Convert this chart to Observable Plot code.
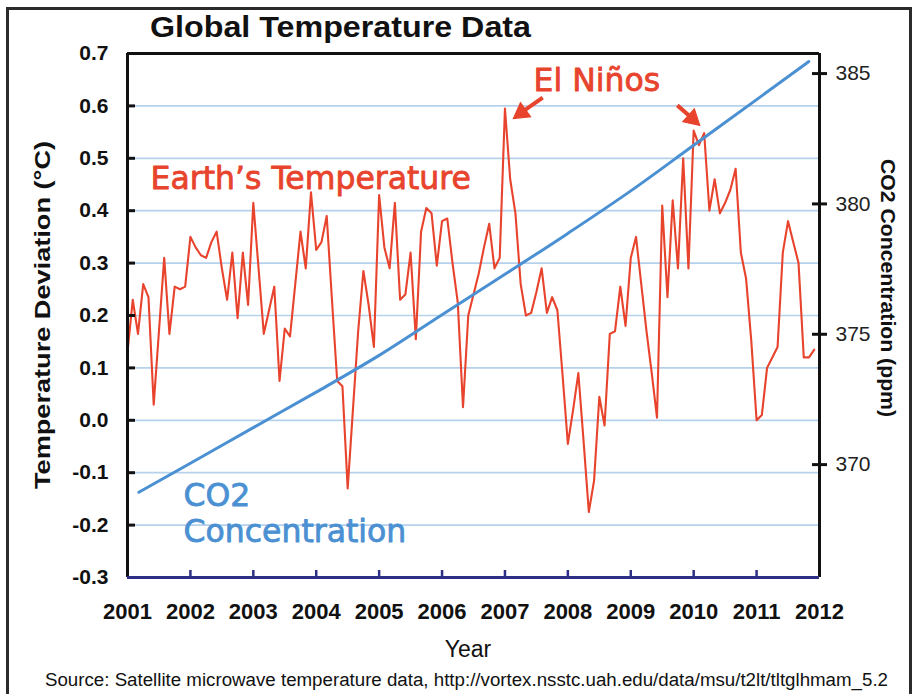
<!DOCTYPE html>
<html><head><meta charset="utf-8">
<script src="https://cdn.jsdelivr.net/npm/d3@7"></script>
<script src="https://cdn.jsdelivr.net/npm/@observablehq/plot@0.6"></script>
<style>
html,body{margin:0;padding:0;background:#fff;}
#wrap{position:relative;width:918px;height:694px;overflow:hidden;background:#fff;}
#border{position:absolute;left:6px;top:7px;width:900px;height:700px;border:3px solid #2b2b2b;}
#chart{position:absolute;left:0;top:0;}
#labels{position:absolute;left:0;top:0;}
g[aria-label="annotations"] text{filter:drop-shadow(1.5px 1.5px 1.2px rgba(0,0,0,0.35));}
</style>
</head><body>
<div id="wrap">
<div id="border"></div>
<div id="chart"></div>
<svg id="labels" width="918" height="694" font-family="'Liberation Sans', Arial, sans-serif">
  <text x="150" y="37" font-weight="bold" font-size="29" fill="#111" textLength="381" lengthAdjust="spacingAndGlyphs">Global Temperature Data</text>
  <text transform="translate(50,315) rotate(-90)" text-anchor="middle" font-weight="bold" font-size="22" fill="#111" textLength="348" lengthAdjust="spacingAndGlyphs">Temperature Deviation (°C)</text>
  <text transform="translate(881,288) rotate(90)" text-anchor="middle" font-weight="bold" font-size="21" fill="#111" textLength="258" lengthAdjust="spacingAndGlyphs">CO2 Concentration (ppm)</text>
  <text x="468" y="657" text-anchor="middle" font-size="23" fill="#111">Year</text>
  <text x="45" y="686" font-size="18" fill="#111" textLength="843" lengthAdjust="spacingAndGlyphs">Source: Satellite microwave temperature data, http://vortex.nsstc.uah.edu/data/msu/t2lt/tltglhmam_5.2</text>
</svg>
</div>
<script>
// ---- data ----
const startYear = 2001;
// monthly temperature deviation (°C), Jan 2001 .. Dec 2011
const temp2001 = [0.13, 0.23, 0.165, 0.26, 0.235, 0.03, 0.17, 0.31, 0.165, 0.255, 0.25, 0.255];
const temp2002 = [0.35, 0.33, 0.315, 0.31, 0.34, 0.36, 0.29, 0.23, 0.32, 0.195, 0.32, 0.22];
const temp2003 = [0.415, 0.29, 0.165, 0.21, 0.255, 0.075, 0.175, 0.16, 0.26, 0.36, 0.29, 0.435];
const temp2004 = [0.325, 0.34, 0.39, 0.23, 0.075, 0.065, -0.13, 0.02, 0.17, 0.285, 0.22, 0.14];
const temp2005 = [0.43, 0.33, 0.29, 0.415, 0.23, 0.24, 0.32, 0.155, 0.36, 0.405, 0.395, 0.295];
const temp2006 = [0.38, 0.385, 0.30, 0.225, 0.025, 0.2, 0.24, 0.28, 0.33, 0.375, 0.29, 0.31];
const temp2007 = [0.595, 0.46, 0.395, 0.26, 0.2, 0.205, 0.245, 0.29, 0.205, 0.235, 0.21, 0.085];
const temp2008 = [-0.045, 0.02, 0.09, -0.04, -0.175, -0.115, 0.045, -0.01, 0.165, 0.17, 0.255, 0.18];
const temp2009 = [0.31, 0.35, 0.26, 0.17, 0.09, 0.005, 0.41, 0.235, 0.42, 0.29, 0.50, 0.29];
const temp2010 = [0.553, 0.525, 0.548, 0.40, 0.46, 0.395, 0.415, 0.44, 0.48, 0.32, 0.27, 0.15];
const temp2011 = [0.0, 0.01, 0.10, 0.12, 0.14, 0.32, 0.38, 0.34, 0.30, 0.12, 0.12, 0.135];

// CO2 concentration (ppm)
const co2Years = [2001.18, 2002, 2003, 2004, 2005, 2006, 2007, 2008, 2009, 2010, 2011, 2011.83];
const co2Ppm   = [368.94, 370.05, 371.42, 372.78, 374.19, 375.75, 377.30, 378.87, 380.50, 382.25, 384.00, 385.46];

const yearTicks  = [2001, 2002, 2003, 2004, 2005, 2006, 2007, 2008, 2009, 2010, 2011, 2012];
const yearLabels = ["2001","2002","2003","2004","2005","2006","2007","2008","2009","2010","2011","2012"];
const tempTicks  = [-0.3, -0.2, -0.1, 0.0, 0.1, 0.2, 0.3, 0.4, 0.5, 0.6, 0.7];
const tempTickLabels = ["-0.3","-0.2","-0.1","0.0","0.1","0.2","0.3","0.4","0.5","0.6","0.7"];
const co2Ticks = [370, 375, 380, 385];
const co2TickLabels = ["370","375","380","385"];

// ---- build ----
const tempSeries = [temp2001, temp2002, temp2003, temp2004, temp2005, temp2006, temp2007, temp2008, temp2009, temp2010, temp2011].flat();
const tempData = tempSeries.map((v, i) => ({date: startYear + i / 12, value: v}));
const co2Data = co2Years.map((y, i) => ({year: y, ppm: co2Ppm[i]}));
// secondary axis mapping (CO2 ppm -> left-axis units)
const co2Scale = d3.scaleLinear().domain([365.67, 385.77]).range([-0.3, 0.7]);
const innerTemp = tempTicks.slice(1, -1);
const innerYears = yearTicks.slice(1, -1);

const RED = "#e8432c", BLUE = "#4a90d2", NAVY = "#2e2f86";

// El Niño arrows: shaft + filled head
const arrowShafts = [{x1: 2007.60, y1: 0.616, x2: 2007.27, y2: 0.588}, {x1: 2009.74, y1: 0.601, x2: 2009.97, y2: 0.577}];
const arrowHeads  = [{x: 2007.263, y: 0.5872, angle: 234}, {x: 2009.978, y: 0.5756, angle: 132}];

const chart = Plot.plot({
  width: 918, height: 694,
  marginLeft: 127, marginRight: 99, marginTop: 53, marginBottom: 117,
  style: {background: "transparent", fontFamily: "'Liberation Sans', Arial, sans-serif", overflow: "visible"},
  x: {type: "linear", domain: [2001, 2012], axis: null},
  y: {domain: [-0.3, 0.7], axis: null},
  marks: [
    Plot.frame({fill: "#ffffff", stroke: null}),
    Plot.ruleY(innerTemp, {y: d => d, stroke: "#b6d1ec", strokeWidth: 1.7}),
    Plot.line(tempData, {x: "date", y: "value", stroke: RED, strokeWidth: 2.1, strokeLinejoin: "round"}),
    Plot.line(co2Data, {x: "year", y: d => co2Scale(d.ppm), stroke: BLUE, strokeWidth: 3, curve: "monotone-x"}),
    // frame
    Plot.ruleY([0.7], {y: d => d, stroke: "#111", strokeWidth: 3}),
    Plot.ruleX([2001], {x: d => d, stroke: "#111", strokeWidth: 3}),
    Plot.ruleX([2012], {x: d => d, stroke: "#111", strokeWidth: 3}),
    Plot.ruleY([-0.3], {y: d => d, stroke: NAVY, strokeWidth: 3}),
    // ticks
    Plot.tickY(innerTemp, {y: d => d, stroke: "#111", strokeWidth: 3, insetRight: 684}),
    Plot.tickY(co2Ticks, {y: d => co2Scale(d), stroke: "#111", strokeWidth: 3, insetLeft: 685, insetRight: -8}),
    Plot.tickX(innerYears, {x: d => d, stroke: NAVY, strokeWidth: 2.5, insetTop: 517}),
    // tick labels
    Plot.text(tempTicks, {x: 2001, y: d => d, text: (d, i) => tempTickLabels[i], dx: -19, textAnchor: "end", fontWeight: "bold", fontSize: 21, fill: "#111"}),
    Plot.text(co2Ticks, {x: 2012, y: d => co2Scale(d), text: (d, i) => co2TickLabels[i], dx: 16, textAnchor: "start", fontSize: 21, fill: "#222"}),
    Plot.text(yearTicks, {x: d => d, y: -0.3, text: (d, i) => yearLabels[i], dy: 26, lineAnchor: "top", fontWeight: "bold", fontSize: 22, fill: "#111"}),
    // annotations
    Plot.link(arrowShafts, {x1: "x1", y1: "y1", x2: "x2", y2: "y2", stroke: RED, strokeWidth: 4}),
    Plot.dot(arrowHeads, {x: "x", y: "y", rotate: "angle", symbol: "triangle", r: 6.5, fill: RED, stroke: RED, strokeWidth: 1}),
    Plot.text([
      {x: 2001.366, y: 0.442, t: "Earth’s Temperature", c: RED},
      {x: 2007.454, y: 0.6275, t: "El Niños", c: RED},
      {x: 2001.89, y: -0.1626, t: "CO2", c: BLUE},
      {x: 2001.89, y: -0.233, t: "Concentration", c: BLUE}
    ], {x: "x", y: "y", text: "t", fill: "c", stroke: "c", strokeWidth: 0.8, textAnchor: "start", lineAnchor: "bottom", fontSize: 31.5,
        fontFamily: "'DejaVu Sans', Verdana, sans-serif", ariaLabel: "annotations"})
  ]
});
document.getElementById("chart").appendChild(chart);
</script>
</body></html>
